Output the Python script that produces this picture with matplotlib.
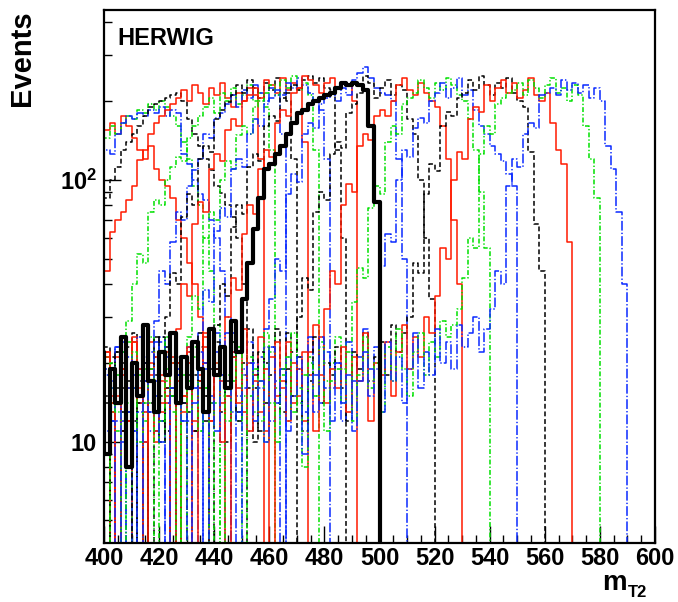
import numpy as np
import matplotlib
matplotlib.use('Agg')
import matplotlib.pyplot as plt
from matplotlib.ticker import FixedLocator, FixedFormatter, MultipleLocator, NullFormatter

plt.rcParams['font.family'] = ['Liberation Sans', 'DejaVu Sans']
plt.rcParams['mathtext.fontset'] = 'custom'
plt.rcParams['mathtext.bf'] = 'Liberation Sans:bold'
plt.rcParams['mathtext.rm'] = 'Liberation Sans'
plt.rcParams['lines.scale_dashes'] = False

# ---------------- data (2 GeV bins, each list ends at its endpoint) ----------------
bin_width = 2.0

red_438 = [160, 150, 155, 165, 150, 175, 160, 145, 130, 120, 135, 110, 100, 95, 85, 70, 60, 48, 40, 30, 20]
green_442 = [150, 155, 145, 160, 150, 165, 175, 170, 185, 180, 195, 185, 200, 190, 175, 160, 140, 120, 95, 80, 60, 45, 28]
blue_446 = [115, 125, 130, 125, 150, 165, 175, 170, 180, 175, 185, 180, 190, 175, 185, 180, 125, 115, 100, 88, 84, 70, 60, 45, 30]
black_452 = [75, 80, 85, 100, 112, 130, 140, 150, 160, 175, 190, 195, 200, 205, 210, 215, 200, 170, 150, 134, 120, 109, 95, 89, 80, 72, 60, 40]
red_458 = [14, 18, 22, 30, 45, 63, 70, 75, 84, 95, 119, 130, 150, 165, 175, 185, 195, 205, 220, 200,
           230, 215, 195, 225, 210, 235, 205, 190, 215, 200, 225, 210, 120]
green_462 = [16, 11, 3, 14, 19, 13,
             29, 40, 52, 48, 75, 84, 80, 100, 112, 122, 118, 145, 160,
             175, 190, 205, 180, 215, 200, 225, 195, 210, 230, 200, 215, 190, 130]
blue_466 = [14, 20, 4, 17, 12, 24, 3, 11, 19, 13, 22,
            29, 45, 40, 58, 75, 70, 95, 109, 120, 150, 145, 172,
            180, 195, 210, 190, 220, 205, 230, 215, 200, 225, 210, 150]
black_470 = [18, 12, 23, 3, 16, 20, 13, 26, 2, 17, 14, 21, 15,
             30, 44, 40, 72, 88, 80, 120, 135, 128, 170, 185, 198,
             210, 230, 215, 240, 225, 205, 235, 220, 245, 215, 200, 120]
red_474 = [11, 17, 22, 14, 3, 19, 12, 25, 16, 2, 20, 13, 18, 15, 21,
           27, 40, 36, 68, 82, 75, 110, 125, 118, 155, 170, 160, 200,
           210, 225, 205, 240, 230, 215, 245, 220, 235, 225, 140]
green_478 = [15, 3, 21, 13, 18, 11, 24, 16, 0, 19, 14, 22, 12, 17, 20, 3, 18,
             25, 36, 32, 60, 75, 70, 100, 118, 110, 148, 160, 150, 190,
             200, 215, 230, 210, 240, 225, 250, 220, 235, 210, 130]
blue_482 = [13, 20, 3, 16, 23, 12, 2, 18, 14, 21, 11, 17, 25, 3, 15, 19, 12, 22, 16,
            26, 38, 34, 64, 78, 72, 110, 120, 112, 150, 170, 160, 195,
            205, 220, 210, 235, 225, 245, 230, 215, 200, 185, 120]
black_488 = [19, 11, 15, 3, 22, 13, 17, 10, 20, 14, 0, 18, 12, 23, 16, 2, 21, 13, 18, 26, 15, 19,
             28, 40, 36, 66, 80, 74, 112, 125, 118, 160, 175, 168, 205,
             215, 230, 220, 240, 250, 235, 245, 225, 220, 130, 60]
red_492 = [12, 18, 3, 15, 21, 11, 16, 2, 19, 13, 24, 10, 17, 14, 20, 0, 15, 22, 12, 18, 25, 14, 20, 17,
           30, 42, 38, 62, 80, 74, 110, 130, 122, 165, 185, 175, 215,
           225, 250, 240, 230, 215, 235, 245, 225, 235, 230, 200]
black_500 = [16, 22, 9, 19, 14, 25, 8, 20, 15, 28, 17, 13, 22, 18, 26, 14, 21, 16, 24, 19, 13, 27, 18, 23, 16, 29, 22,
             35, 48, 65, 85, 110, 115, 125, 135, 150, 165, 180, 185, 195, 200, 205,
             210, 215, 225, 235, 230, 235, 230, 220, 160, 82]
blue_510 = [14, 20, 11, 17, 3, 22, 13, 16, 25, 10, 19, 15, 12, 21, 2, 18, 14, 23, 11, 16, 20, 13, 26, 17, 3, 22, 15, 19, 24, 18, 21, 27,
            35, 50, 45, 88, 105, 98, 150, 165, 158, 195, 205,
            215, 200, 225, 210, 240, 255, 270, 245, 225, 215,
            210, 200, 120, 50]
black_520 = [10, 18, 14, 21, 3, 16, 23, 12, 17, 0, 19, 13, 25, 11, 15, 20, 14, 4, 22, 17, 12, 19, 24, 15, 10, 21, 13, 18, 27, 16, 11, 20, 23, 14, 19, 26, 22,
             30, 42, 38, 75, 90, 84, 125, 140, 132, 180, 195,
             215, 250, 235, 205, 225, 240, 210, 230, 220, 170,
             150, 100, 60, 35]
red_530 = [17, 11, 22, 3, 15, 19, 12, 24, 14, 10, 18, 21, 13, 16, 2, 20, 15, 23, 11, 17, 26, 12, 19, 14, 3, 22, 16, 13, 20, 18, 25, 11, 21, 15, 17, 24, 14, 19, 12, 22, 28, 18,
           32, 45, 40, 80, 96, 90, 135, 150, 142, 175, 185,
           175, 200, 230, 245, 220, 210, 235, 215, 200, 190,
           160, 120, 70, 40]
green_540 = [13, 20, 3, 16, 11, 22, 14, 2, 18, 12, 25, 15, 10, 19, 13, 21, 3, 17, 23, 11, 16, 14, 20, 3, 18, 24, 12, 15, 21, 13, 17, 10, 22, 16, 19, 12, 26, 14, 18, 21, 15, 23, 17, 20, 25, 19, 24,
             34, 46, 42, 78, 95, 88, 140, 160, 150, 195, 205,
             215, 240, 225, 205, 235, 220, 245, 230, 210, 200,
             170, 130, 90, 55]
blue_550 = [15, 3, 19, 12, 23, 10, 16, 2, 13, 20, 17, 11, 24, 14, 3, 18, 21, 12, 16, 3, 19, 14, 22, 10, 15, 26, 13, 18, 11, 20, 16, 23, 12, 17, 4, 21, 15, 19, 13, 25, 18, 14, 22, 16, 20, 12, 24, 17, 21, 27, 19, 23,
            47, 62, 58, 100, 130, 122, 158, 172, 165, 200,
            215, 235, 205, 225, 245, 210, 220, 185, 160, 150, 135,
            125, 118, 105, 95]
black_560 = [12, 19, 3, 15, 22, 11, 17, 2, 14, 20, 13, 25, 10, 16, 3, 21, 14, 18, 11, 23, 15, 4, 19, 13, 17, 24, 12, 20, 16, 10, 22, 14, 18, 27, 13, 19, 15, 21, 11, 17, 25, 14, 20, 18, 23, 16, 12, 22, 19, 26, 17, 21, 24, 18, 28, 22, 26,
             30, 48, 44, 88, 115, 108, 160, 182, 175, 205,
             215, 240, 220, 250, 230, 210, 235, 225, 245, 215, 200,
             190, 128, 68, 45]
red_570 = [16, 10, 21, 13, 3, 18, 12, 24, 15, 2, 19, 11, 14, 22, 3, 17, 13, 20, 2, 16, 23, 12, 18, 10, 15, 21, 14, 27, 11, 17, 13, 19, 3, 24, 16, 12, 20, 15, 22, 18, 11, 25, 14, 19, 16, 23, 13, 21, 17, 26, 12, 20, 18, 24, 15, 22, 28, 19, 25, 21, 30, 26,
           36, 55, 50, 100, 128, 120, 170, 190, 182,
           230, 200, 225, 240, 215, 235, 205, 220, 245, 210, 200, 215,
           165, 130, 115, 58]
green_580 = [11, 17, 3, 20, 13, 2, 16, 22, 10, 14, 19, 3, 12, 25, 15, 3, 18, 13, 21, 11, 16, 0, 14, 20, 12, 17, 23, 3, 15, 19, 12, 26, 14, 10, 18, 21, 13, 16, 8, 20, 15, 24, 11, 17, 19, 14, 22, 12, 18, 25, 16, 20, 13, 23, 17, 27, 19, 15, 22, 26, 18, 24, 21, 29, 25, 28, 32,
             42, 60, 55, 125, 160, 150, 195, 205, 215,
             220, 235, 210, 240, 225, 205, 230, 245, 215, 225, 200, 230, 210,
             160, 120, 85]
blue_590 = [14, 3, 18, 12, 2, 15, 21, 11, 3, 17, 13, 24, 10, 2, 16, 19, 12, 0, 14, 22, 3, 15, 11, 18, 26, 13, 3, 16, 20, 12, 17, 10, 23, 14, 19, 11, 15, 21, 9, 18, 13, 25, 16, 12, 20, 14, 18, 11, 17, 22, 15, 19, 13, 24, 17, 21, 14, 19, 26, 16, 22, 18, 27, 20, 24, 19, 28, 23, 26, 30, 22, 27,
            32, 45, 40, 95, 120, 112, 150, 165, 158, 210, 215,
            225, 210, 240, 220, 235, 215, 230, 205, 225, 200,
            135, 110, 75, 40]

endpoints = [438, 442, 446, 452, 458, 462, 466, 470, 474, 478, 482, 488, 492,
             510, 520, 530, 540, 550, 560, 570, 580, 590]
colour_keys = ['r', 'g', 'b', 'k', 'r', 'g', 'b', 'k', 'r', 'g', 'b', 'k', 'r',
               'b', 'k', 'r', 'g', 'b', 'k', 'r', 'g', 'b']
series_values = [red_438, green_442, blue_446, black_452, red_458, green_462, blue_466,
                 black_470, red_474, green_478, blue_482, black_488, red_492,
                 blue_510, black_520, red_530, green_540, blue_550, black_560,
                 red_570, green_580, blue_590]
true_endpoint = 500

x_ticks = [400, 420, 440, 460, 480, 500, 520, 540, 560, 580, 600]
y_major = [10, 100]
y_major_labels = ['10', r'$\mathbf{10^{2}}$']
y_minor = [5, 6, 7, 8, 9, 20, 30, 40, 50, 60, 70, 80, 90, 200, 300, 400]

# ---------------- figure ----------------
W, H = 678, 602
fig = plt.figure(figsize=(W / 100, H / 100), dpi=100)
ax = fig.add_axes([104 / W, 1 - 543 / H, 551 / W, 533 / H])

styles = {
    'k': dict(color='black', ls=(0, (3.5, 2.0)), lw=1.1),
    'r': dict(color='#ff1a00', ls='-', lw=1.1),
    'g': dict(color='#00e000', ls=(0, (3.5, 1.5, 1.0, 1.5)), lw=1.1),
    'b': dict(color='#0a2aff', ls=(0, (7.0, 1.5, 1.0, 1.5)), lw=1.1),
}

FLOOR = 0.1


def draw(vals, end, **kw):
    v = np.asarray(vals, float)
    edges = end - bin_width * len(v) + bin_width * np.arange(len(v) + 1)
    y = np.append(np.where(v > 0, v, FLOOR), FLOOR)
    ax.plot(edges, y, drawstyle='steps-post', **kw)


for vals, end, key in zip(series_values, endpoints, colour_keys):
    draw(vals, end, **styles[key])

draw(black_500, true_endpoint, color='black', lw=3.0, ls='-')

ax.set_yscale('log')
ax.set_xlim(400, 600)
ax.set_ylim(4.1, 445)

ax.xaxis.set_major_locator(FixedLocator(x_ticks))
ax.xaxis.set_minor_locator(MultipleLocator(5))
ax.yaxis.set_major_locator(FixedLocator(y_major))
ax.yaxis.set_major_formatter(FixedFormatter(y_major_labels))
ax.yaxis.set_minor_locator(FixedLocator(y_minor))
ax.yaxis.set_minor_formatter(NullFormatter())

ax.tick_params(axis='both', which='both', direction='in', top=False, right=False, width=1.0)
ax.tick_params(axis='both', which='major', length=12, labelsize=17)
ax.tick_params(axis='both', which='minor', length=6)
ax.tick_params(axis='x', which='major', pad=3)
ax.tick_params(axis='y', which='major', pad=5)
for lab in ax.get_xticklabels() + ax.get_yticklabels():
    lab.set_fontweight('bold')

for sp in ax.spines.values():
    sp.set_linewidth(1.6)

ax.text(0.025, 0.947, 'HERWIG', transform=ax.transAxes, fontsize=17,
        fontweight='bold', ha='left', va='center')

fig.text(22 / W, 1 - 10 / H, 'Events', rotation=90, fontsize=21,
         fontweight='bold', ha='center', va='top')
fig.text(602 / W, 1 - 590 / H, 'm', fontsize=20, fontweight='bold', ha='left', va='baseline')
fig.text(628 / W, 1 - 597 / H, 'T2', fontsize=12, fontweight='bold', ha='left', va='baseline')

fig.savefig('out.png', dpi=100)
